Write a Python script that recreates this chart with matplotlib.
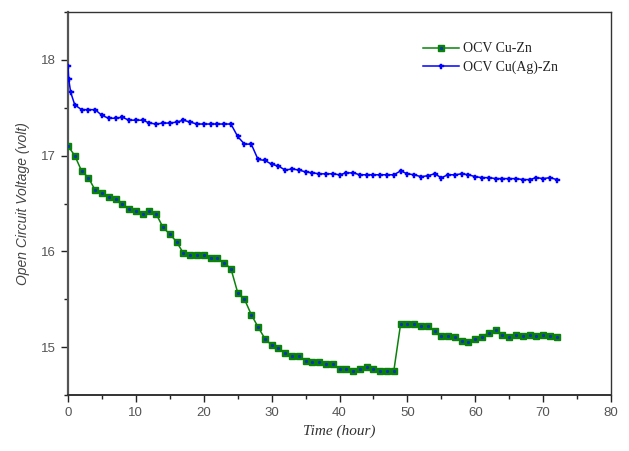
import matplotlib
matplotlib.use("Agg")
import matplotlib.pyplot as plt
from matplotlib.ticker import MultipleLocator
from matplotlib.legend_handler import HandlerTuple

# ---- data ----
hours = list(range(0, 73))

ocv_cu_zn = [17.10, 17.00, 16.84, 16.77, 16.64, 16.61, 16.57, 16.55, 16.50, 16.44,
             16.42, 16.39, 16.42, 16.39, 16.25, 16.18, 16.10, 15.98, 15.96, 15.96,
             15.96, 15.93, 15.93, 15.88, 15.82, 15.57, 15.50, 15.34, 15.21, 15.09,
             15.02, 14.99, 14.94, 14.91, 14.91, 14.86, 14.84, 14.84, 14.82, 14.82,
             14.77, 14.77, 14.75, 14.77, 14.79, 14.77, 14.75, 14.75, 14.75, 15.24,
             15.24, 15.24, 15.22, 15.22, 15.17, 15.12, 15.12, 15.11, 15.06, 15.05,
             15.08, 15.11, 15.15, 15.18, 15.13, 15.11, 15.13, 15.12, 15.13, 15.12,
             15.13, 15.12, 15.11]

hours_ag = [0, 0.1, 0.4] + list(range(1, 73))
ocv_cu_ag_zn = [17.94, 17.80, 17.66,
                17.53, 17.48, 17.48, 17.48, 17.42, 17.39, 17.39, 17.40, 17.37, 17.37,
                17.37, 17.34, 17.33, 17.34, 17.34, 17.35, 17.37, 17.35, 17.33, 17.33,
                17.33, 17.33, 17.33, 17.33, 17.20, 17.12, 17.12, 16.96, 16.95, 16.91,
                16.89, 16.85, 16.86, 16.85, 16.83, 16.82, 16.81, 16.81, 16.81, 16.80,
                16.82, 16.82, 16.80, 16.80, 16.80, 16.80, 16.80, 16.80, 16.84, 16.81,
                16.80, 16.78, 16.79, 16.81, 16.77, 16.80, 16.80, 16.81, 16.80, 16.78,
                16.77, 16.77, 16.76, 16.76, 16.76, 16.76, 16.75, 16.75, 16.77, 16.76,
                16.77, 16.75]

labels = ["OCV Cu-Zn", "OCV Cu(Ag)-Zn"]
x_label = "Time (hour)"
y_label = "Open Circuit Voltage (volt)"

# ---- figure ----
fig = plt.figure(figsize=(6.29, 4.51), dpi=100)
ax = fig.add_axes([68/629, 1-395/451, (611-68)/629, (395-12)/451])

green = "#0a820a"
blue = "#0000ff"

l1, = ax.plot(hours, ocv_cu_zn, color=green, lw=1.1, marker="s", ms=3.8,
              mfc=green, mec=green, zorder=3)
l1d, = ax.plot(hours, ocv_cu_zn, ls="none", marker="o", ms=1.3,
               mfc="#1030c0", mec="#1030c0", zorder=4)
l2, = ax.plot(hours_ag, ocv_cu_ag_zn, color=blue, lw=1.1, marker="P", ms=3.6,
              mfc=blue, mec=blue, mew=0.3, zorder=3)

ax.set_xlim(0, 80)
ax.set_ylim(14.5, 18.5)
ax.xaxis.set_major_locator(MultipleLocator(10))
ax.xaxis.set_minor_locator(MultipleLocator(5))
ax.yaxis.set_major_locator(MultipleLocator(1))
ax.yaxis.set_minor_locator(MultipleLocator(0.5))

ax.tick_params(which="both", direction="out", top=False, right=False,
               color="#222222", width=1.0, labelcolor="#555555")
ax.tick_params(which="major", length=5, labelsize=9.5)
ax.tick_params(which="minor", length=3)
for lab in ax.get_xticklabels() + ax.get_yticklabels():
    lab.set_fontfamily("Liberation Sans")

for s in ax.spines.values():
    s.set_color("#333333")
    s.set_linewidth(1.0)
ax.spines["left"].set_linewidth(1.6)
ax.spines["left"].set_color("#555555")
ax.spines["bottom"].set_linewidth(1.4)

ax.set_xlabel(x_label, fontfamily="Liberation Serif", fontstyle="italic",
              fontsize=11, color="#333333", labelpad=4)
ax.set_ylabel(y_label, fontfamily="Liberation Sans", fontstyle="italic",
              fontsize=10, color="#444444", labelpad=8)

leg = fig.legend([(l1, l1d), l2], labels, loc="upper left",
                 bbox_to_anchor=(410/629, 1-30/451), frameon=False,
                 handler_map={tuple: HandlerTuple(ndivide=1)},
                 prop={"family": "Liberation Serif", "size": 10},
                 handlelength=2.6, handletextpad=0.3, labelspacing=0.35)
for t in leg.get_texts():
    t.set_color("#222222")

fig.savefig("out.png", dpi=100)
